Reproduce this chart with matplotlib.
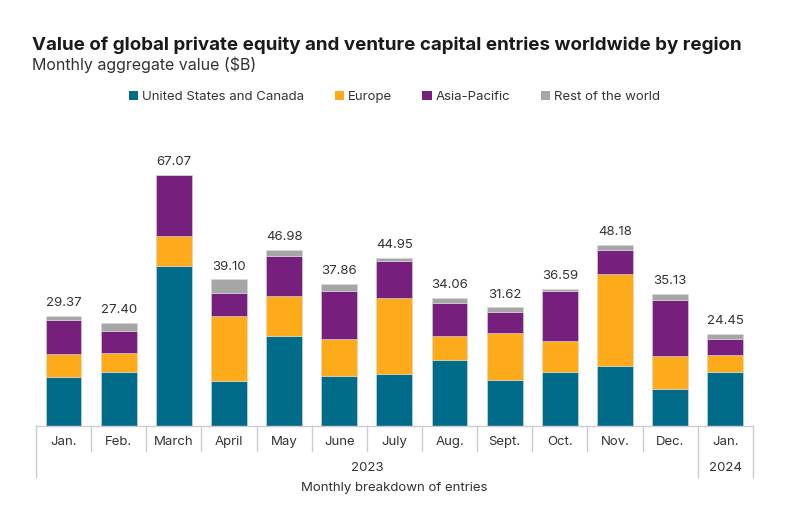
import matplotlib.pyplot as plt
import numpy as np
from matplotlib.patches import Patch

plt.rcParams['font.family'] = ['Inter', 'DejaVu Sans']

months = ['Jan.', 'Feb.', 'March', 'April', 'May', 'June', 'July',
          'Aug.', 'Sept.', 'Oct.', 'Nov.', 'Dec.', 'Jan.']
totals = [29.37, 27.40, 67.07, 39.10, 46.98, 37.86, 44.95,
          34.06, 31.62, 36.59, 48.18, 35.13, 24.45]
us_canada = [13.2, 14.3, 42.7, 12.1, 24.0, 13.4, 14.0, 17.7, 12.2, 14.3, 16.0, 9.85, 14.5]
europe = [6.0, 5.2, 8.0, 17.3, 10.7, 9.8, 20.1, 6.35, 12.7, 8.4, 24.5, 8.95, 4.5]
asia_pacific = [9.0, 5.8, 16.3, 6.0, 10.7, 12.7, 10.0, 8.7, 5.45, 13.3, 6.45, 14.85, 4.2]
rest_world = [1.17, 2.1, 0.07, 3.7, 1.58, 1.96, 0.85, 1.31, 1.27, 0.59, 1.23, 1.48, 1.25]
years = ['2023', '2024']
year_spans = [(0, 11), (12, 12)]

series = [
    ('United States and Canada', us_canada, '#006c89'),
    ('Europe', europe, '#fdaa1b'),
    ('Asia-Pacific', asia_pacific, '#761f7d'),
    ('Rest of the world', rest_world, '#a6a6a6'),
]

fig = plt.figure(figsize=(8, 5.12), dpi=100)
ax = fig.add_axes([0.045, 0.168, 0.896, 0.598])

x = np.arange(len(months))
bottom = np.zeros(len(months))
for name, vals, color in series:
    ax.bar(x, vals, 0.65, bottom=bottom, color=color, label=name,
           edgecolor='#d9d9d9', linewidth=0.4)
    bottom += np.array(vals)

for xi, t in zip(x, totals):
    ax.annotate(f'{t:.2f}', (xi, t), xytext=(0, 5), textcoords='offset points',
                ha='center', va='bottom', fontsize=9.5, color='#333333')

ax.set_xlim(-0.5, len(months) - 0.5)
ax.set_ylim(0, 81.7)
for s in ax.spines.values():
    s.set_visible(False)
ax.set_yticks([])
ax.set_xticks([])

trans = ax.get_xaxis_transform()
line_col = '#cccccc'
ax.plot([-0.5, len(months) - 0.5], [0, 0], color=line_col, lw=1,
        transform=trans, clip_on=False)
month_drop = -25 / 306
year_drop = -51 / 306
group_edges = {-0.5, 11.5, 12.5}
for edge in np.arange(-0.5, len(months), 1.0):
    drop = year_drop if edge in group_edges else month_drop
    ax.plot([edge, edge], [0, drop], color=line_col, lw=1,
            transform=trans, clip_on=False)

for xi, m in zip(x, months):
    ax.text(xi, -16 / 306, m, transform=trans, ha='center', va='center',
            fontsize=9.5, color='#333333')

for yr, (a, b) in zip(years, year_spans):
    ax.text((a + b) / 2, -42 / 306, yr, transform=trans, ha='center',
            va='center', fontsize=9.5, color='#333333')

ax.text((len(months) - 1) / 2, -62 / 306, 'Monthly breakdown of entries',
        transform=trans, ha='center', va='center', fontsize=9.5, color='#333333')

fig.text(0.04, 0.912, 'Value of global private equity and venture capital entries worldwide by region',
         fontsize=13.5, fontweight='bold', color='#1a1a1a', va='center')
fig.text(0.04, 0.873, 'Monthly aggregate value ($B)', fontsize=11.5,
         color='#333333', va='center')

handles = [Patch(facecolor=c, label=n) for n, _, c in series]
fig.legend(handles=handles, loc='center', bbox_to_anchor=(0.493, 1 - 97 / 512),
           ncol=4, frameon=False, fontsize=9.5, handlelength=0.7,
           handleheight=0.7, handletextpad=0.3, columnspacing=2.3,
           labelcolor='#333333')

fig.savefig('out.png', dpi=100)
